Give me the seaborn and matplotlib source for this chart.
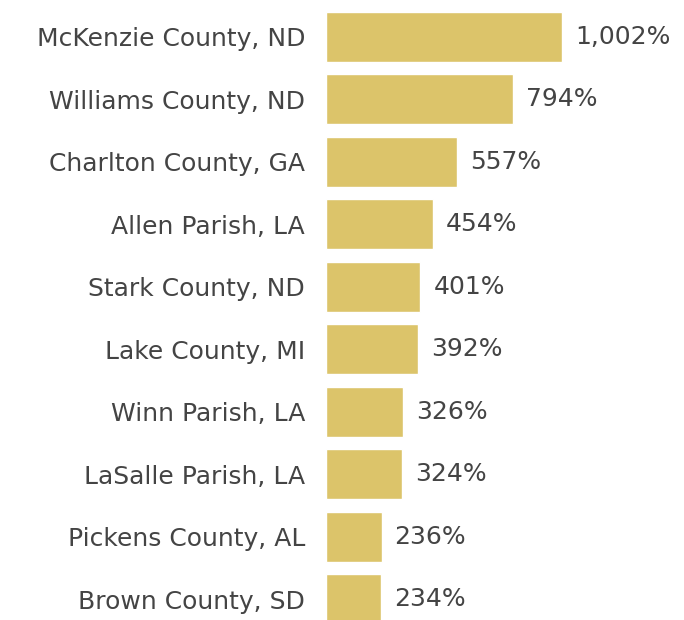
import pandas as pd
import matplotlib
matplotlib.use("Agg")
import matplotlib.pyplot as plt
import seaborn as sns

# data
counties = ["McKenzie County, ND", "Williams County, ND", "Charlton County, GA",
            "Allen Parish, LA", "Stark County, ND", "Lake County, MI",
            "Winn Parish, LA", "LaSalle Parish, LA", "Pickens County, AL",
            "Brown County, SD"]
growth = [1002, 794, 557, 454, 401, 392, 326, 324, 236, 234]

df = pd.DataFrame({"county": counties, "growth": growth})

sns.set_style("white")
plt.rcParams["font.family"] = ["DejaVu Sans"]

fig = plt.figure(figsize=(6.84, 6.2), dpi=100)
ax = fig.add_axes([326 / 684, 0, 1 - 326 / 684, 1])

sns.barplot(data=df, x="growth", y="county", color="#dcc46a",
            saturation=1, width=0.8, ax=ax)

ax.set_xlim(0, 1520)
ax.set_ylim(9.33, -0.59)
ax.set_xlabel("")
ax.set_ylabel("")
ax.set_xticks([])
ax.tick_params(axis="y", length=0, pad=15, labelsize=18, labelcolor="#444444")
sns.despine(ax=ax, left=True, bottom=True)

for i, v in enumerate(growth):
    ax.text(v + 55, i, f"{v:,}%", va="center", ha="left",
            fontsize=18, color="#444444")

fig.savefig("out.png", dpi=100)
